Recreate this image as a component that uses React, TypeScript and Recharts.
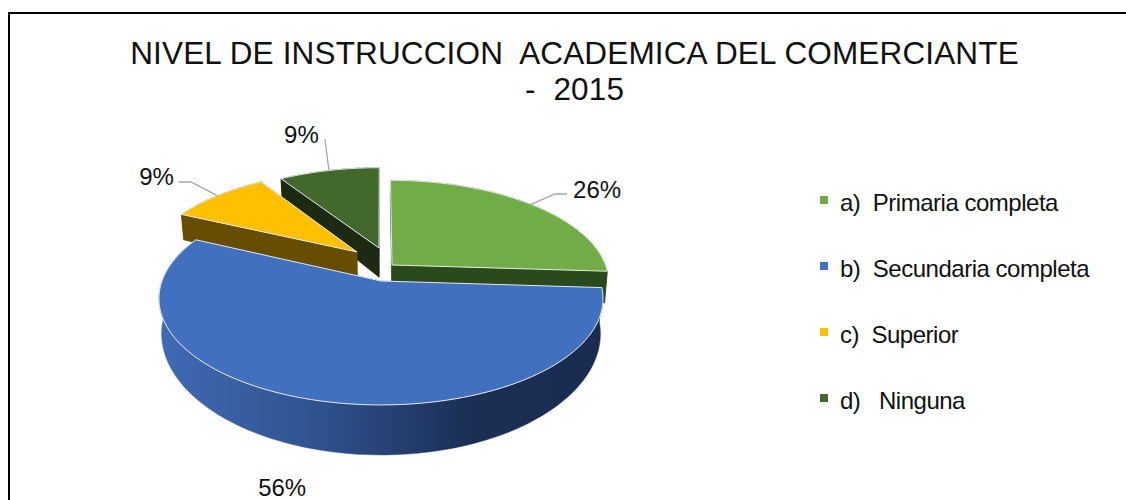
import React from "react";
import { PieChart, Pie, Legend } from "recharts";

const TITLE_LINES = ["NIVEL DE INSTRUCCION  ACADEMICA DEL COMERCIANTE", "-  2015"];
const legendNames = ["a)  Primaria completa", "b)  Secundaria completa", "c)  Superior", "d)   Ninguna"];
const legendColors = ["#70AD47", "#4472C4", "#FFC000", "#43682B"];

// Slices in painter's order, running counter-clockwise from the right edge, big front slice last.
const sliceNames = ["a)  Primaria completa", "d)   Ninguna", "c)  Superior", "b)  Secundaria completa"];
const sliceValues = [26, 9, 9, 56];
const topColors = ["#70AD47", "#43682B", "#FFC000", "#4170BF"];
const wallColors = ["#2B4A1B", "#1B2A11", "#664D00", "url(#blueWall)"];

const pieData = sliceNames.map((name, i) => ({ name, value: sliceValues[i], top: topColors[i], wall: wallColors[i] }));

// explosion of each slice, in pie radii (x to the right, y to the back)
const explode: Record<string, [number, number]> = {
  "c)  Superior": [-0.115, 0.294],
  "d)   Ninguna": [-0.0096, 0.336],
  "a)  Primaria completa": [0.0515, 0.1586],
  "b)  Secundaria completa": [0, 0],
};
// label text position and leader elbow relative to the arc's midpoint
const labelOffset: Record<string, { tx: number; ty: number; anchor: "start" | "end" | "middle"; line?: [number, number][] }> = {
  "c)  Superior": { tx: -43.4, ty: -10.6, anchor: "end", line: [[-26.4, -13.6], [-38.4, -13.6]] },
  "d)   Ninguna": { tx: -27.5, ty: -27.8, anchor: "middle", line: [[-4, -31.5]] },
  "a)  Primaria completa": { tx: 42, ty: -6.7, anchor: "start", line: [[24, -10.4], [36, -10.4]] },
  "b)  Secundaria completa": { tx: -34, ty: 95.7, anchor: "middle" },
};

const K = 0.165; // perspective strength
const SQUASH = 103.5 / 219;
const DEPTH = 33;
const RAD = Math.PI / 180;

function project(cx: number, cy: number, R: number, wx: number, wy: number, lower = false) {
  const w = 1 + K * wy;
  const shrink = lower ? 0.988 : 1;
  const sx = cx + (R * wx * shrink) / w;
  const sy = cy - (R * SQUASH * wy) / w + (lower ? DEPTH / Math.pow(w, 2.3) : 0);
  return [sx, sy] as const;
}

function arcPoints(cx: number, cy: number, R: number, off: [number, number], a0: number, a1: number, lower = false) {
  const n = Math.max(2, Math.ceil(Math.abs(a1 - a0) / 2));
  const pts: (readonly [number, number])[] = [];
  for (let i = 0; i <= n; i++) {
    const a = (a0 + ((a1 - a0) * i) / n) * RAD;
    pts.push(project(cx, cy, R, off[0] + Math.cos(a), off[1] + Math.sin(a), lower));
  }
  return pts;
}
const toPath = (pts: (readonly [number, number])[], close = true) =>
  "M" + pts.map((p) => `${p[0].toFixed(2)},${p[1].toFixed(2)}`).join("L") + (close ? "Z" : "");

function Slice3D(props: any) {
  const { cx, cy, outerRadius: R, startAngle, endAngle, payload } = props;
  const p = payload ?? props;
  const off = explode[p.name];
  const top = arcPoints(cx, cy, R, off, startAngle, endAngle);
  const low = arcPoints(cx, cy, R, off, startAngle, endAngle, true);
  const apex = project(cx, cy, R, off[0], off[1]);
  const apexLow = project(cx, cy, R, off[0], off[1], true);
  const outer = [...top, ...[...low].reverse()];
  const w0 = [apex, top[0], low[0], apexLow];
  const w1 = [apex, top[top.length - 1], low[low.length - 1], apexLow];
  return (
    <g>
      <path d={toPath(w0)} fill={p.wall} stroke={p.wall} strokeWidth={0.5} />
      <path d={toPath(w1)} fill={p.wall} stroke={p.wall} strokeWidth={0.5} />
      <path d={toPath(outer)} fill={p.wall} stroke={p.wall} strokeWidth={0.5} />
      <path d={toPath([apex, ...top])} fill={p.top} stroke="#E4E9ED" strokeWidth={1} />
    </g>
  );
}

function SliceLabel(props: any) {
  const { cx, cy, outerRadius: R, midAngle, percent, payload } = props;
  const p = payload ?? props;
  const name = p.name;
  const off = explode[name];
  const a = midAngle * RAD;
  const [mx, my] = project(cx, cy, R, off[0] + Math.cos(a), off[1] + Math.sin(a));
  const cfg = labelOffset[name];
  const linePts = cfg.line ? [[mx, my] as const, ...cfg.line.map((l) => [mx + l[0], my + l[1]] as const)] : null;
  return (
    <g>
      {linePts && <path d={toPath(linePts, false)} fill="none" stroke="#A6A6A6" strokeWidth={1.3} />}
      <text x={mx + cfg.tx} y={my + cfg.ty} textAnchor={cfg.anchor} fontFamily="Liberation Sans" fontSize={24} fill="#111">
        {Math.round(percent * 100)}%
      </text>
    </g>
  );
}

function LegendBox() {
  return (
    <div style={{ position: "absolute", left: 820, top: 0, fontFamily: "Liberation Sans", fontSize: 24, color: "#111" }}>
      {legendNames.map((n, i) => (
        <div key={n} style={{ position: "absolute", top: 191 + i * 66, left: 0, width: 290, height: 26, whiteSpace: "pre" }}>
          <span style={{ position: "absolute", left: 0, top: 5, width: 8, height: 8, background: legendColors[i] }} />
          <span style={{ position: "absolute", left: 20, top: 0, lineHeight: "24px", letterSpacing: -0.48 }}>{n}</span>
        </div>
      ))}
    </div>
  );
}

export default function App() {
  return (
    <div style={{ position: "absolute", left: 0, top: 0, width: 1126, height: 500, background: "#fff", overflow: "hidden" }}>
      <PieChart width={1126} height={500} margin={{ top: 0, right: 0, bottom: 0, left: 0 }}>
        <defs>
          <linearGradient id="blueWall" gradientUnits="userSpaceOnUse" x1="165" y1="0" x2="602" y2="0">
            <stop offset="0" stopColor="#3F6AB2" />
            <stop offset="0.35" stopColor="#30528F" />
            <stop offset="0.7" stopColor="#1B2E54" />
            <stop offset="1" stopColor="#1A2C50" />
          </linearGradient>
        </defs>
        <path d="M9,500V13H1126" fill="none" stroke="#000" strokeWidth={2} />
        {TITLE_LINES.map((t, i) => (
          <text key={t} x={574.5} y={63.5 + i * 36.5} textAnchor="middle" fontFamily="Liberation Sans" fontSize={31.5} letterSpacing={0.15} fill="#111" xmlSpace="preserve" style={{ whiteSpace: "pre" }}>
            {t}
          </text>
        ))}
        <Pie
          data={pieData}
          dataKey="value"
          nameKey="name"
          cx={381}
          cy={281}
          innerRadius={0}
          outerRadius={219}
          startAngle={-3.6}
          endAngle={356.4}
          isAnimationActive={false}
          stroke="none"
          shape={Slice3D}
          label={SliceLabel}
          labelLine={false}
        />
        <Legend content={() => <LegendBox />} wrapperStyle={{ left: 0, top: 0, width: 0, height: 0 }} />
      </PieChart>
    </div>
  );
}
